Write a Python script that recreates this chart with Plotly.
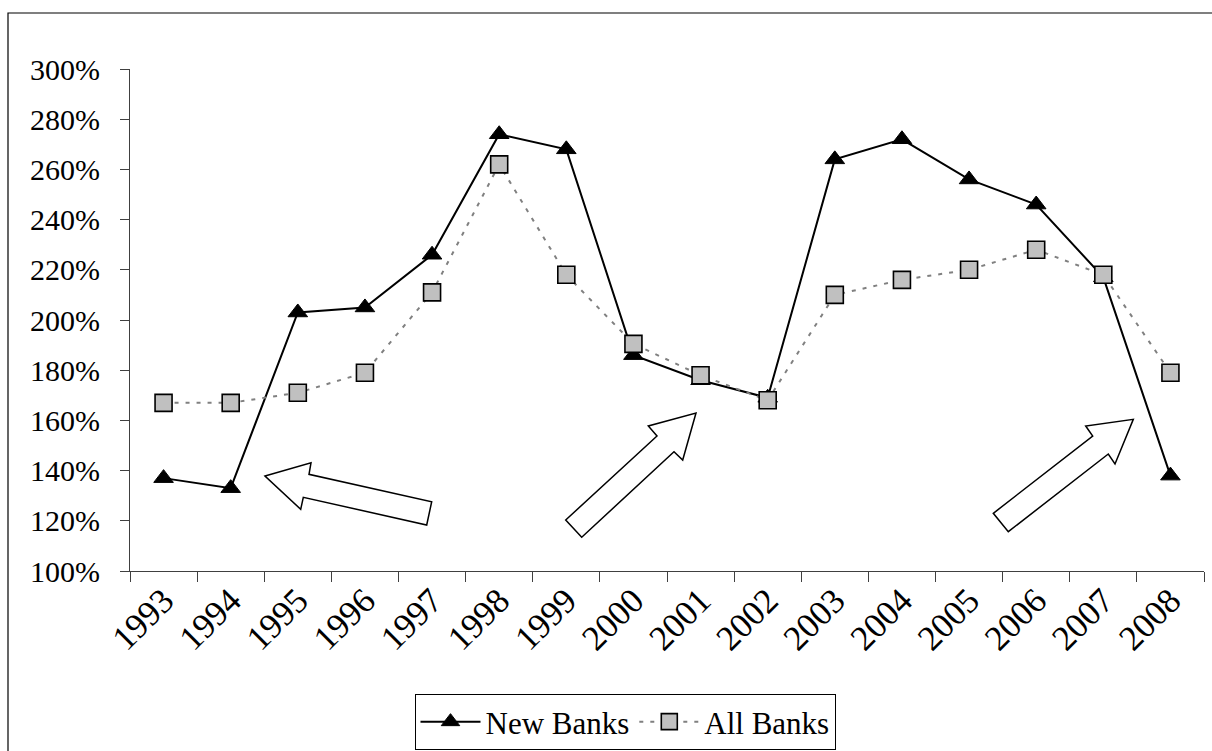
import plotly.graph_objects as go

# Categories and series (ratios in percent)
years = ["1993", "1994", "1995", "1996", "1997", "1998", "1999", "2000",
         "2001", "2002", "2003", "2004", "2005", "2006", "2007", "2008"]
new_banks = [137, 133, 203, 205, 226, 274, 268, 186, 176, 169, 264, 272, 256, 246, 217, 138]
all_banks = [167, 167, 171, 179, 211, 262, 218, 190.5, 178, 168, 210, 216, 220, 228, 218, 179]

W, H = 1212, 751
ML, MR, MT, MB = 130, 8, 69, 180
PW, PH = W - ML - MR, H - MT - MB

FONT = "Times New Roman, Liberation Serif, serif"


def to_paper(pts):
    """Convert page-pixel points to paper coordinates for shape paths."""
    out = []
    for x, y in pts:
        out.append(((x - ML) / PW, (H - MB - y) / PH))
    return out


def path_from(pts):
    p = to_paper(pts)
    return "M " + " L ".join(f"{x:.5f},{y:.5f}" for x, y in p) + " Z"


# Hollow block arrows (outline in page pixels)
arrow_left = [(265, 476), (311, 462.7), (309, 474.3), (431.7, 501.7),
              (426.7, 525), (303.3, 497.3), (300.7, 509.3)]
arrow_mid = [(565.7, 520), (657, 436), (648.3, 426), (696, 413),
             (682.7, 460), (674, 451.7), (581.7, 537.3)]
arrow_right = [(993.3, 513.3), (1092.7, 436), (1085.7, 426), (1133.3, 419.3),
               (1115, 464), (1108.3, 454), (1008.3, 531.7)]

fig = go.Figure()

fig.add_trace(go.Scatter(
    x=years, y=new_banks, name="New Banks", mode="lines+markers",
    line=dict(color="black", width=2),
    marker=dict(symbol="triangle-up", size=17, color="black",
                line=dict(color="black", width=1)),
))
fig.add_trace(go.Scatter(
    x=years, y=all_banks, name="All Banks", mode="lines+markers",
    line=dict(color="#808080", width=2, dash="4px,7px"),
    marker=dict(symbol="square", size=17, color="#c0c0c0",
                line=dict(color="black", width=1.6)),
))

shapes = []
for pts in (arrow_left, arrow_mid, arrow_right):
    shapes.append(dict(type="path", xref="paper", yref="paper",
                       path=path_from(pts), fillcolor="white",
                       line=dict(color="black", width=1.5), layer="above"))

# Chart area border
(bx0, by0), (bx1, by1) = to_paper([(8, 13), (1230, 770)])
shapes.append(dict(type="rect", xref="paper", yref="paper",
                   x0=bx0, y0=by1, x1=bx1, y1=by0,
                   line=dict(color="black", width=1.2), layer="below"))

fig.update_layout(
    width=W, height=H,
    margin=dict(l=ML, r=MR, t=MT, b=MB, pad=0, autoexpand=False),
    paper_bgcolor="white", plot_bgcolor="white",
    font=dict(family=FONT, color="black", size=30),
    showlegend=True,
    legend=dict(orientation="h", x=(625 - ML) / PW, xanchor="center",
                y=(H - MB - 694) / PH, yanchor="top",
                bordercolor="black", borderwidth=1, bgcolor="white",
                font=dict(family=FONT, size=31), itemwidth=60,
                tracegroupgap=0),
    shapes=shapes,
    xaxis=dict(type="category", range=[-0.5, 15.5], tickson="boundaries",
               automargin=False,
               showline=True, linecolor="#404040", linewidth=1,
               ticks="outside", ticklen=10, tickcolor="#404040",
               tickangle=-45, showgrid=False, zeroline=False,
               ticklabelstandoff=-6,
               tickfont=dict(family=FONT, size=35)),
    yaxis=dict(range=[100, 300], dtick=20, ticksuffix="%",
               automargin=False,
               showline=True, linecolor="#404040", linewidth=1,
               ticks="outside", ticklen=9, tickcolor="#404040",
               showgrid=False, zeroline=False, ticklabelstandoff=14,
               tickfont=dict(family=FONT, size=30)),
)

fig.write_html("out.html")
